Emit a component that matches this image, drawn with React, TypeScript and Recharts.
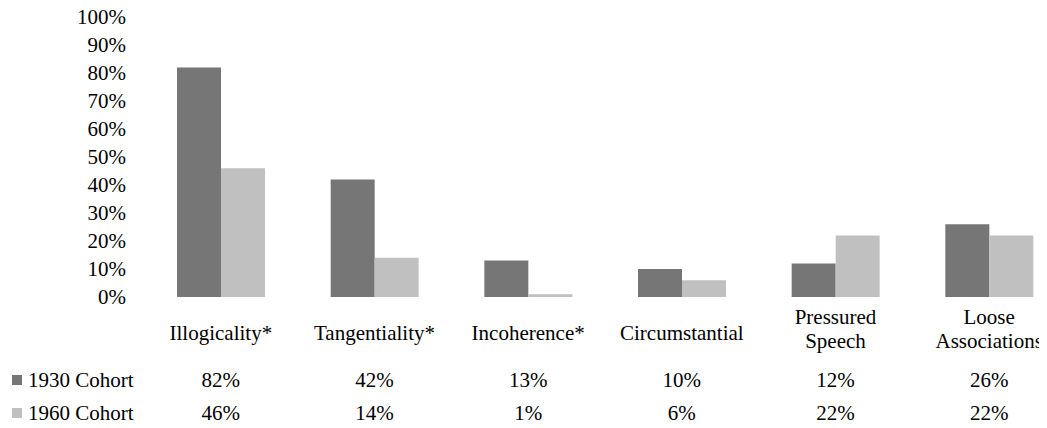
import React from "react";
import { BarChart, Bar, XAxis, YAxis } from "recharts";

const categories = [
  ["Illogicality*"],
  ["Tangentiality*"],
  ["Incoherence*"],
  ["Circumstantial"],
  ["Pressured", "Speech"],
  ["Loose", "Associations"],
];
const cohort1930 = [82, 42, 13, 10, 12, 26];
const cohort1960 = [46, 14, 1, 6, 22, 22];
const yTicks = [0, 10, 20, 30, 40, 50, 60, 70, 80, 90, 100];
const seriesNames = ["1930 Cohort", "1960 Cohort"];

const DARK = "#767676";
const LIGHT = "#c0c0c0";
const FONT = "Liberation Serif";
const FS = 21;

const data = categories.map((c, i) => ({
  name: c.join(" "),
  idx: i,
  c1930: cohort1930[i],
  c1960: cohort1960[i],
}));

const XTick = (props: any) => {
  const { x, y, index } = props;
  const lines = categories[index];
  return (
    <g style={{ fontFamily: FONT }} fontSize={FS} fill="#000">
      {lines.length === 1 ? (
        <text x={x} y={y + 36} textAnchor="middle" dominantBaseline="central">
          {lines[0]}
        </text>
      ) : (
        lines.map((l, k) => (
          <text key={k} x={x} y={y + 20 + k * 24} textAnchor="middle" dominantBaseline="central">
            {l}
          </text>
        ))
      )}
      <text x={x} y={y + 83} textAnchor="middle" dominantBaseline="central">
        {cohort1930[index] + "%"}
      </text>
      <text x={x} y={y + 116} textAnchor="middle" dominantBaseline="central">
        {cohort1960[index] + "%"}
      </text>
    </g>
  );
};

export default function App() {
  return (
    <div
      style={{
        position: "relative",
        width: 1039,
        height: 428,
        marginTop: -8,
        overflow: "hidden",
        fontFamily: FONT,
      }}
    >
      <BarChart
        width={1058}
        height={428}
        data={data}
        margin={{ top: 17, right: 0, bottom: 130, left: 0 }}
        barGap={0}
        barSize={44}
      >
        <YAxis
          domain={[0, 100]}
          ticks={yTicks}
          width={136}
          axisLine={false}
          tickLine={false}
          tickSize={0}
          tickMargin={18}
          interval={0}
          tickFormatter={(v: number) => `${v}%`}
          tick={{ fontFamily: FONT, fontSize: FS, fill: "#000", style: { fontFamily: FONT } }}
        />
        <XAxis
          dataKey="name"
          height={1}
          axisLine={false}
          tickLine={false}
          tickSize={0}
          tickMargin={0}
          interval={0}
          tick={<XTick />}
        />
        <Bar dataKey="c1930" fill={DARK} isAnimationActive={false} />
        <Bar dataKey="c1960" fill={LIGHT} isAnimationActive={false} />
      </BarChart>
      {seriesNames.map((s, i) => (
        <div
          key={s}
          style={{
            position: "absolute",
            left: 4,
            top: (i === 0 ? 380 : 413) - 12,
            height: 24,
            display: "flex",
            alignItems: "center",
            fontFamily: FONT,
            fontSize: FS,
            color: "#000",
            whiteSpace: "nowrap",
          }}
        >
          <span
            style={{
              display: "inline-block",
              width: 10,
              height: 10,
              background: i === 0 ? DARK : LIGHT,
              marginRight: 6,
            }}
          />
          {s}
        </div>
      ))}
    </div>
  );
}
